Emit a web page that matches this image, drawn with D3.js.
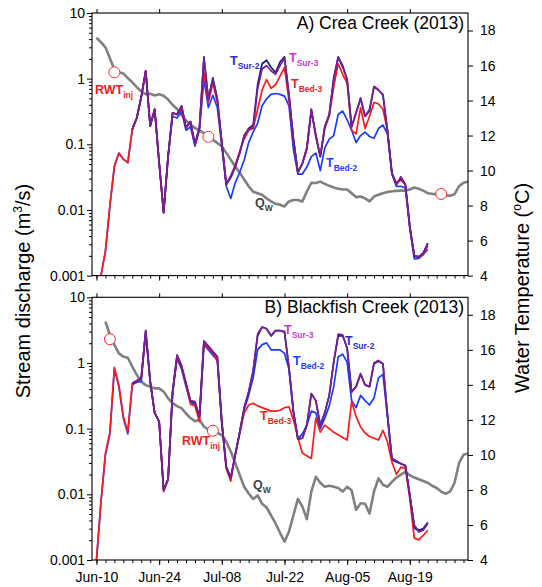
<!DOCTYPE html>
<html>
<head>
<meta charset="utf-8">
<script src="https://cdn.jsdelivr.net/npm/d3@7"></script>
<style>
  body { margin: 0; background: #fff; }
  text { font-family: "Liberation Sans", Arial, sans-serif; }
</style>
</head>
<body>
<div id="vis"></div>
<script>
// ---- data (daily values) ----

// stream discharge Qw (m3/s), daily
var qStartA = "2013-06-10";
var qA = [4.2, 3.6, 3.0, 2.05, 1.37, 1.25, 1.2, 1.02, 0.88, 0.74, 0.64, 0.58, 0.59, 0.555, 0.58,
  0.55, 0.48, 0.40, 0.345, 0.28, 0.23, 0.2, 0.177, 0.163, 0.148, 0.132, 0.117, 0.105, 0.093, 0.074,
  0.058, 0.046, 0.037, 0.029, 0.023, 0.019, 0.018, 0.017, 0.015, 0.0135, 0.0124, 0.012, 0.0113, 0.0135,
  0.0142, 0.0142, 0.0135, 0.019, 0.026, 0.0257, 0.027, 0.025, 0.0233, 0.022, 0.021, 0.0205, 0.0205,
  0.018, 0.0157, 0.016, 0.015, 0.0135, 0.016, 0.017, 0.018, 0.0188, 0.0193, 0.0195, 0.0197, 0.0197,
  0.0205, 0.022, 0.021, 0.0197, 0.018, 0.0176, 0.0174, 0.017, 0.0167, 0.0165, 0.0174, 0.023, 0.026, 0.027];

var qStartB = "2013-06-12";
var qB = [4.27, 2.67, 1.88, 1.4, 1.25, 1.2, 0.88, 0.66, 0.52, 0.46, 0.436, 0.41, 0.41, 0.366, 0.29,
  0.245, 0.22, 0.205, 0.17, 0.145, 0.13, 0.137, 0.108, 0.096, 0.093, 0.086, 0.08, 0.063, 0.045, 0.03,
  0.0197, 0.013, 0.0103, 0.0085, 0.0096, 0.0072, 0.0063, 0.0048, 0.0036, 0.0026, 0.0019, 0.0027, 0.0048,
  0.0085, 0.0065, 0.0042, 0.011, 0.0185, 0.015, 0.013, 0.0135, 0.013, 0.0125, 0.011, 0.013, 0.0115,
  0.0058, 0.0073, 0.0072, 0.0051, 0.011, 0.0175, 0.014, 0.013, 0.0155, 0.018, 0.02, 0.022, 0.0195,
  0.018, 0.017, 0.016, 0.015, 0.0135, 0.0125, 0.011, 0.0102, 0.011, 0.015, 0.03, 0.04, 0.042];

// water temperature (deg C), daily
var bedStartA = "2013-06-11";
var surStartA = "2013-06-18";
var bed3A = [4.0, 5.4, 8.0, 10.25, 11.0, 10.65, 10.45, 12.35, 13.0, 14.2, 15.7, 12.55, 13.5, 10.45, 7.6,
  10.8, 13.3, 13.2, 13.5, 12.45, 12.8, 11.5, 12.45, 15.6, 13.9, 15.0, 13.9, 11.6, 9.2, 9.7,
  10.3, 11.1, 11.8, 12.3, 12.4, 13.5, 14.6, 15.2, 14.7, 14.9, 15.4, 15.9, 14.0, 11.8, 9.9,
  10.4, 11.2, 13.4, 12.1, 10.8, 12.4, 13.1, 14.8, 16.1, 15.5, 15.0, 12.3, 12.1, 13.6, 12.4,
  13.1, 13.9, 13.8, 13.5, 12.3, 9.85, 9.3, 9.45, 9.2, 6.8, 5.15, 5.1, 5.2, 5.7];
var bed2A = [4.0, 5.4, 8.0, 10.25, 11.0, 10.65, 10.45, 12.35, 13.0, 14.2, 15.7, 12.55, 13.5, 10.45, 7.6,
  10.8, 13.1, 13.0, 13.4, 12.3, 12.5, 11.4, 12.3, 15.2, 13.6, 14.3, 13.6, 11.4, 9.1, 8.4,
  9.3, 9.9, 10.6, 11.6, 12.2, 12.7, 13.7, 14.1, 14.35, 14.4, 14.35, 14.25, 13.7, 11.2, 9.8,
  9.8, 10.2, 10.8, 11.0, 10.0, 11.3, 11.8, 12.0, 13.2, 13.4, 12.9, 12.3, 11.6, 12.0, 12.2,
  11.95, 11.85, 12.4, 12.6, 12.1, 9.8, 9.1, 9.1, 9.0, 6.7, 4.96, 4.98, 5.2, 5.5];
var sur3A = [12.35, 13.0, 14.2, 15.7, 12.55, 13.5, 10.45, 7.6, 10.8, 13.3, 13.2, 13.7, 12.45, 12.8, 11.5,
  12.45, 16.4, 14.1, 15.2, 14.1, 11.6, 9.2, 9.7, 10.25, 11.0, 12.0, 12.35, 12.45, 14.65, 15.8,
  16.0, 15.7, 15.5, 16.0, 16.4, 14.3, 11.8, 9.9, 10.4, 11.3, 13.5, 11.95, 10.8, 12.5, 13.2,
  15.2, 16.45, 15.9, 15.2, 12.5, 13.3, 14.15, 13.1, 13.5, 14.8, 14.6, 14.35, 12.3, 9.85, 9.2,
  9.65, 9.2, 6.8, 5.15, 5.05, 5.25, 5.8];
var sur2A = [12.35, 13.0, 14.2, 15.7, 12.55, 13.5, 10.45, 7.6, 10.8, 13.3, 13.2, 13.7, 12.45, 12.8, 11.5,
  12.45, 16.5, 14.1, 15.3, 14.1, 11.6, 9.2, 9.6, 10.2, 11.0, 12.0, 12.4, 12.6, 14.9, 16.1,
  16.3, 15.9, 15.6, 16.2, 16.5, 14.4, 11.8, 9.9, 10.4, 11.3, 13.5, 11.95, 10.8, 12.5, 13.2,
  15.3, 16.5, 16.0, 15.2, 12.5, 13.3, 14.1, 13.1, 13.4, 14.8, 14.6, 14.3, 12.3, 9.85, 9.2,
  9.6, 9.2, 6.8, 5.1, 5.05, 5.3, 5.85];

var bedStartB = "2013-06-10";
var surStartB = "2013-06-18";
var bed3B = [4.0, 7.3, 10.1, 11.3, 15.0, 14.0, 12.2, 11.33, 14.1, 14.25, 14.4, 17.0, 14.2, 12.4, 11.9,
  7.9, 8.6, 13.6, 15.6, 15.0, 14.0, 12.9, 12.8, 11.9, 16.4, 16.1, 15.8, 15.4, 11.8, 9.2,
  8.5, 10.0, 11.2, 12.4, 12.85, 12.95, 12.8, 12.7, 12.6, 12.5, 12.5, 12.55, 12.7, 12.75, 12.0,
  11.0, 10.1, 9.95, 9.8, 12.1, 11.3, 11.7, 11.5, 11.3, 11.15, 11.0, 10.85, 13.05, 12.2, 11.6,
  11.25, 11.05, 10.95, 10.85, 11.4, 10.75, 9.6, 8.9, 9.3, 9.25, 7.5, 5.25, 5.15, 5.4, 5.7];
var bed2B = [4.0, 7.3, 10.0, 11.2, 14.9, 13.9, 12.1, 11.2, 14.0, 14.15, 14.2, 17.0, 14.2, 12.4, 11.9,
  8.0, 8.6, 13.5, 15.5, 14.9, 13.9, 13.0, 12.9, 12.1, 16.3, 16.0, 15.7, 15.4, 11.8, 9.3,
  8.7, 10.0, 11.3, 12.6, 13.4, 14.4, 16.0, 16.3, 16.4, 16.0, 16.0, 16.0, 15.8, 14.9, 12.4,
  10.9, 11.2, 11.7, 12.5, 12.4, 11.5, 12.1, 12.8, 13.9, 15.6, 15.75, 15.3, 13.1, 12.7, 13.4,
  13.1, 12.85, 13.25, 14.4, 14.6, 12.2, 9.7, 9.6, 9.5, 9.4, 7.7, 5.8, 5.7, 5.8, 6.15];
var sur3B = [14.1, 14.2, 14.4, 17.1, 14.2, 12.4, 11.9, 8.0, 8.6, 13.6, 15.7, 15.1, 14.1, 13.1, 13.05,
  12.2, 16.5, 16.2, 15.9, 15.6, 11.9, 9.3, 8.7, 10.0, 11.3, 12.7, 13.6, 14.8, 16.9, 17.3,
  17.2, 16.8, 17.1, 17.1, 17.05, 15.0, 12.5, 10.9, 10.95, 11.7, 13.5, 13.1, 11.7, 12.4, 13.4,
  15.3, 16.9, 16.85, 16.1, 13.6, 13.9, 14.65, 14.0, 13.9, 15.25, 15.4, 15.2, 12.3, 9.8, 9.65,
  9.5, 9.4, 7.7, 6.0, 5.6, 5.7, 6.1];
var sur2B = [14.1, 14.2, 14.4, 17.1, 14.2, 12.4, 11.9, 8.0, 8.6, 13.6, 15.7, 15.1, 14.1, 13.1, 13.0,
  12.2, 16.5, 16.2, 15.9, 15.6, 11.9, 9.3, 8.7, 10.0, 11.3, 12.7, 13.6, 14.8, 16.8, 17.3,
  17.2, 16.8, 17.1, 17.1, 17.0, 15.0, 12.5, 10.9, 10.95, 11.7, 13.5, 13.1, 11.7, 12.4, 13.4,
  15.3, 16.8, 16.8, 16.1, 13.6, 13.9, 14.6, 14.0, 13.9, 15.2, 15.35, 15.2, 12.3, 9.8, 9.65,
  9.5, 9.4, 7.7, 5.9, 5.7, 5.75, 6.1];

// RWT injection dates (plotted on the Qw line)
var rwtDatesA = ["2013-06-14", "2013-07-05", "2013-08-26"];
var rwtQA = [1.25, 0.13, 0.0175];
var rwtDatesB = ["2013-06-13", "2013-07-06"];
var rwtQB = [2.3, 0.093];

// axis ticks
var qTicks = [0.001, 0.01, 0.1, 1, 10];
var tempTicks = [4, 6, 8, 10, 12, 14, 16, 18];

// ---- layout ----
var width = 542, height = 587;
var xLeft = 92, xRight = 468;
var fontFamily = '"Liberation Sans", Arial, sans-serif';

var parseDate = d3.timeParse("%Y-%m-%d");
var x = d3.scaleTime()
    .domain([parseDate("2013-06-09"), parseDate("2013-09-01")])
    .range([xLeft, xRight]);

var firstTick = parseDate("2013-06-10");
var majorDates = d3.range(0, 83, 14).map(function(i){ return d3.timeDay.offset(firstTick, i); });
var minorDates = d3.range(0, 83, 2).map(function(i){ return d3.timeDay.offset(firstTick, i); });
var minorQ = [];
qTicks.slice(0, -1).forEach(function(dec){
  for (var k = 2; k <= 9; k++) minorQ.push(dec * k);
});

function toPoints(start, values) {
  var s = parseDate(start);
  return values.map(function(v, i){ return {date: d3.timeDay.offset(s, i), value: v}; });
}

var colors = {red: "#ff1a1a", blue: "#1a3cff", navy: "#1c1c80", purple: "#7a1f96", gray: "#808080"};

var panels = [
  {id: "A", title: "A) Crea Creek (2013)", top: 13, bottom: 275.6, showDates: false,
   q: toPoints(qStartA, qA),
   rwt: rwtDatesA.map(function(d, i){ return {date: parseDate(d), value: rwtQA[i]}; }),
   temps: [
     {pts: toPoints(bedStartA, bed2A), color: colors.blue},
     {pts: toPoints(bedStartA, bed3A), color: colors.red},
     {pts: toPoints(surStartA, sur2A), color: colors.navy},
     {pts: toPoints(surStartA, sur3A), color: colors.purple}
   ],
   labels: [
     {main: "RWT", sub: "inj", x: 95, y: 94, color: "#f01e1e"},
     {main: "T", sub: "Sur-2", x: 230, y: 65, color: "#2a2ad2"},
     {main: "T", sub: "Sur-3", x: 289, y: 62, color: "#c23cc8"},
     {main: "T", sub: "Bed-3", x: 291, y: 88, color: "#f01e1e"},
     {main: "T", sub: "Bed-2", x: 326, y: 167, color: "#2040ff"},
     {main: "Q", sub: "W", x: 255, y: 207, color: "#404040"}
   ]},
  {id: "B", title: "B) Blackfish Creek (2013)", top: 297.3, bottom: 560, showDates: true,
   q: toPoints(qStartB, qB),
   rwt: rwtDatesB.map(function(d, i){ return {date: parseDate(d), value: rwtQB[i]}; }),
   temps: [
     {pts: toPoints(bedStartB, bed2B), color: colors.blue},
     {pts: toPoints(bedStartB, bed3B), color: colors.red},
     {pts: toPoints(surStartB, sur2B), color: colors.navy},
     {pts: toPoints(surStartB, sur3B), color: colors.purple}
   ],
   labels: [
     {main: "T", sub: "Sur-3", x: 284, y: 334, color: "#c23cc8"},
     {main: "T", sub: "Bed-2", x: 293, y: 365, color: "#2040ff"},
     {main: "T", sub: "Sur-2", x: 345, y: 345, color: "#2a2ad2"},
     {main: "T", sub: "Bed-3", x: 260, y: 420, color: "#f01e1e"},
     {main: "RWT", sub: "inj", x: 182, y: 445, color: "#f01e1e"},
     {main: "Q", sub: "W", x: 253, y: 489, color: "#404040"}
   ]}
];

var svg = d3.select("#vis").append("svg")
    .attr("width", width)
    .attr("height", height);

function styleAxis(g) {
  g.select(".domain").remove();
  g.selectAll("line").attr("stroke", "#000");
  g.selectAll("text").attr("font-family", fontFamily).attr("font-size", 14).attr("fill", "#000");
}

panels.forEach(function(p){
  var yQ = d3.scaleLog().domain([0.001, 10]).range([p.bottom, p.top]);
  var yT = d3.scaleLinear().domain([4, 19]).range([p.bottom, p.top]);

  svg.append("clipPath").attr("id", "clip" + p.id)
    .append("rect")
    .attr("x", xLeft).attr("y", p.top)
    .attr("width", xRight - xLeft).attr("height", p.bottom - p.top);

  var plot = svg.append("g").attr("clip-path", "url(#clip" + p.id + ")");

  // discharge line
  var qLine = d3.line().x(function(d){ return x(d.date); }).y(function(d){ return yQ(d.value); });
  plot.append("path")
    .datum(p.q)
    .attr("d", qLine)
    .attr("fill", "none")
    .attr("stroke", colors.gray)
    .attr("stroke-width", 2.6)
    .attr("stroke-linejoin", "round");

  // temperature lines
  var tLine = d3.line().x(function(d){ return x(d.date); }).y(function(d){ return yT(d.value); });
  p.temps.forEach(function(s){
    plot.append("path")
      .datum(s.pts)
      .attr("d", tLine)
      .attr("fill", "none")
      .attr("stroke", s.color)
      .attr("stroke-width", 1.7)
      .attr("stroke-linejoin", "round");
  });

  // RWT injection markers
  svg.append("g").selectAll("circle")
    .data(p.rwt)
    .enter()
    .append("circle")
    .attr("cx", function(d){ return x(d.date); })
    .attr("cy", function(d){ return yQ(d.value); })
    .attr("r", 5.5)
    .attr("fill", "#fff")
    .attr("stroke", "#ff2a2a")
    .attr("stroke-width", 1);

  // frame
  svg.append("rect")
    .attr("x", xLeft).attr("y", p.top)
    .attr("width", xRight - xLeft).attr("height", p.bottom - p.top)
    .attr("fill", "none").attr("stroke", "#000").attr("stroke-width", 1.1);

  // bottom axis
  svg.append("g").attr("transform", "translate(0," + p.bottom + ")")
    .call(d3.axisBottom(x).tickValues(minorDates).tickSize(3).tickFormat(""))
    .call(styleAxis);
  svg.append("g").attr("transform", "translate(0," + p.bottom + ")")
    .call(d3.axisBottom(x).tickValues(majorDates).tickSize(5).tickPadding(7)
      .tickFormat(p.showDates ? d3.timeFormat("%b-%d") : ""))
    .call(styleAxis);
  // top ticks
  svg.append("g").attr("transform", "translate(0," + p.top + ")")
    .call(d3.axisTop(x).tickValues(majorDates).tickSize(4).tickFormat(""))
    .call(styleAxis);

  // left axis (log)
  svg.append("g").attr("transform", "translate(" + xLeft + ",0)")
    .call(d3.axisLeft(yQ).tickValues(minorQ).tickSize(3).tickFormat(""))
    .call(styleAxis);
  svg.append("g").attr("transform", "translate(" + xLeft + ",0)")
    .call(d3.axisLeft(yQ).tickValues(qTicks).tickSize(5).tickPadding(2)
      .tickFormat(function(d){ return String(d); }))
    .call(styleAxis);

  // right axis (temperature)
  svg.append("g").attr("transform", "translate(" + xRight + ",0)")
    .call(d3.axisRight(yT).tickValues(tempTicks).tickSize(5).tickPadding(7))
    .call(styleAxis);

  // panel title
  svg.append("text")
    .attr("x", 464).attr("y", p.top + 16)
    .attr("text-anchor", "end")
    .attr("font-size", 17.5)
    .text(p.title);

  // series labels
  p.labels.forEach(function(l){
    var t = svg.append("text")
      .attr("x", l.x).attr("y", l.y)
      .attr("fill", l.color)
      .attr("font-weight", "bold")
      .attr("font-size", 12.5);
    t.append("tspan").text(l.main);
    t.append("tspan").attr("dy", 4).attr("font-size", 8.5).text(l.sub);
  });
});

// axis titles
var leftTitle = svg.append("text")
  .attr("transform", "translate(30,291) rotate(-90)")
  .attr("text-anchor", "middle")
  .attr("font-size", 20);
leftTitle.append("tspan").text("Stream discharge (m");
leftTitle.append("tspan").attr("dy", -8).attr("font-size", 12).text("3");
leftTitle.append("tspan").attr("dy", 8).text("/s)");

var rightTitle = svg.append("text")
  .attr("transform", "translate(529,288) rotate(-90)")
  .attr("text-anchor", "middle")
  .attr("font-size", 20);
rightTitle.append("tspan").text("Water Temperature (");
rightTitle.append("tspan").attr("dy", -8).attr("font-size", 12).text("o");
rightTitle.append("tspan").attr("dy", 8).text("C)");
</script>
</body>
</html>
